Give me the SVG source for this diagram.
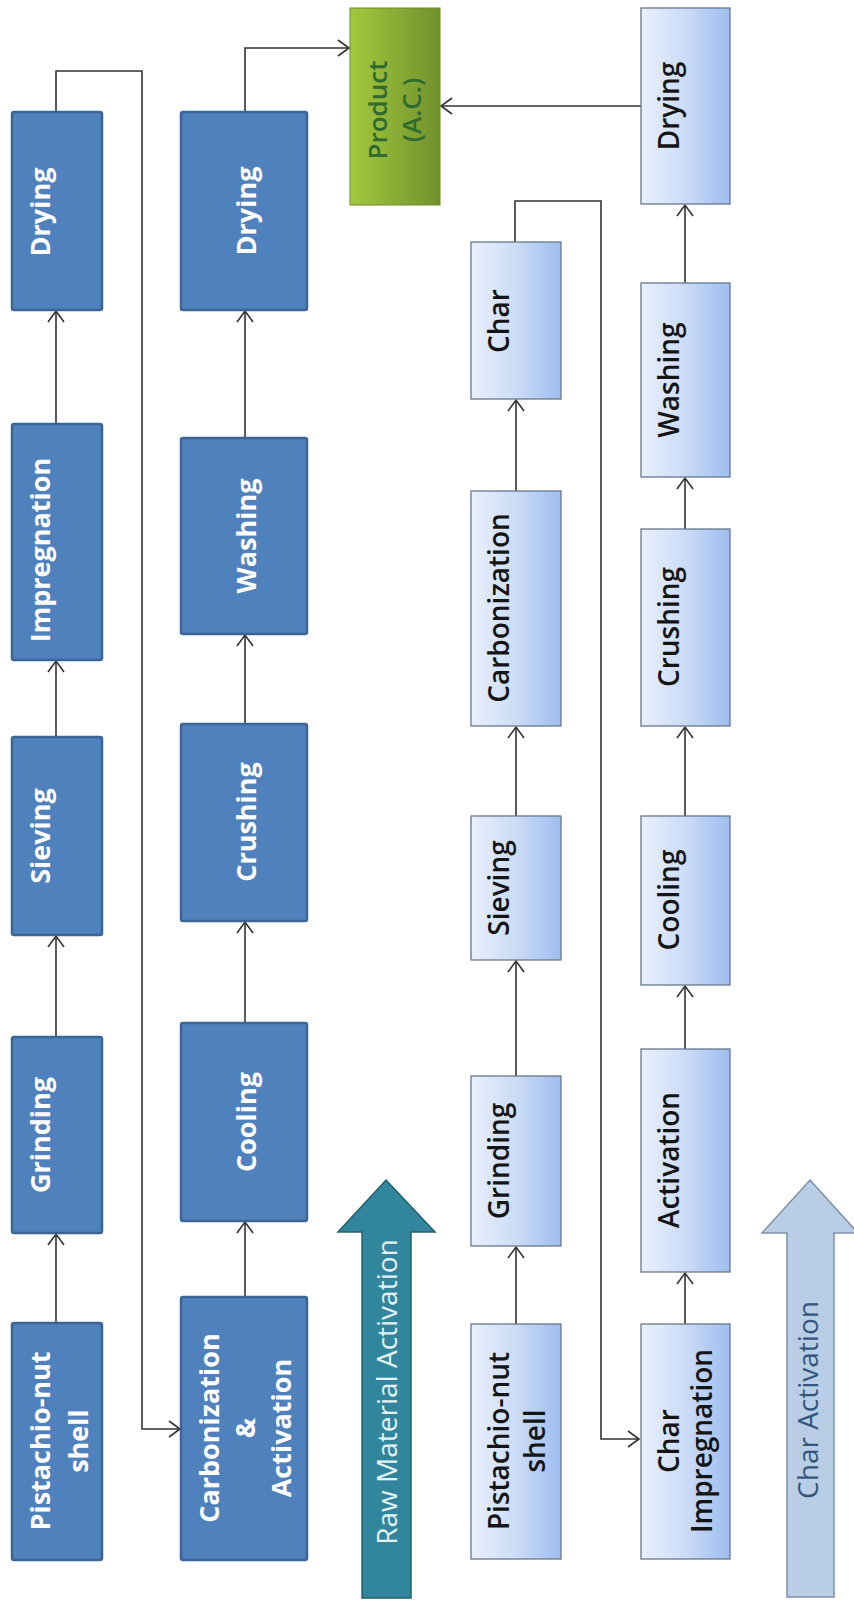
<svg xmlns="http://www.w3.org/2000/svg" width="854" height="1600" viewBox="0 0 854 1600">
<defs>
<linearGradient id="lg" x1="0" y1="0" x2="1" y2="0">
<stop offset="0" stop-color="#e9f0fc"/>
<stop offset="0.5" stop-color="#cbdcf7"/>
<stop offset="1" stop-color="#9ebdef"/>
</linearGradient>
<linearGradient id="gg" x1="0" y1="0" x2="1" y2="0">
<stop offset="0" stop-color="#a3c93e"/>
<stop offset="1" stop-color="#71902c"/>
</linearGradient>
<marker id="ah" markerUnits="userSpaceOnUse" markerWidth="14" markerHeight="18" viewBox="0 0 14 18" refX="12" refY="9" orient="auto">
<path d="M1,1 L12,9 L1,17" fill="none" stroke="#333" stroke-width="1.6"/>
</marker>
<style>
.dk{fill:#4f81bd;stroke:#3b6595;stroke-width:2.5}
.lt{fill:url(#lg);stroke:#67788c;stroke-width:1.3}
.tw{font-family:"Open Sans","DejaVu Sans",sans-serif;font-weight:bold;font-size:27px;fill:#ffffff;text-anchor:middle}
.tb{font-family:"Open Sans","DejaVu Sans",sans-serif;font-weight:600;font-size:28px;fill:#141414;text-anchor:middle}
.cn{fill:none;stroke:#333;stroke-width:1.6}
</style>
</defs>
<g id="connectors">
<path class="cn" marker-end="url(#ah)" d="M56,1323 V1234"/>
<path class="cn" marker-end="url(#ah)" d="M56,1037 V936"/>
<path class="cn" marker-end="url(#ah)" d="M56,737 V661"/>
<path class="cn" marker-end="url(#ah)" d="M56,424 V311"/>
<path class="cn" marker-end="url(#ah)" d="M56,112 V71 H142 V1429 H180"/>
<path class="cn" marker-end="url(#ah)" d="M245,1297 V1222"/>
<path class="cn" marker-end="url(#ah)" d="M245,1023 V922"/>
<path class="cn" marker-end="url(#ah)" d="M245,724 V635"/>
<path class="cn" marker-end="url(#ah)" d="M245,438 V311"/>
<path class="cn" marker-end="url(#ah)" d="M245,112 V48 H349"/>
<path class="cn" marker-end="url(#ah)" d="M516,1324 V1247"/>
<path class="cn" marker-end="url(#ah)" d="M516,1076 V961"/>
<path class="cn" marker-end="url(#ah)" d="M516,816 V727"/>
<path class="cn" marker-end="url(#ah)" d="M516,491 V400"/>
<path class="cn" marker-end="url(#ah)" d="M515,242 V201 H601 V1439 H639"/>
<path class="cn" marker-end="url(#ah)" d="M685,1324 V1273"/>
<path class="cn" marker-end="url(#ah)" d="M685,1049 V986"/>
<path class="cn" marker-end="url(#ah)" d="M685,816 V727"/>
<path class="cn" marker-end="url(#ah)" d="M685,529 V478"/>
<path class="cn" marker-end="url(#ah)" d="M685,283 V205"/>
<path class="cn" marker-end="url(#ah)" d="M641,106 H441"/>
</g>
<g id="r1-pistachio"><rect class="dk" x="12" y="1323" width="90" height="237" rx="2"/><text class="tw" transform="translate(50,1441) rotate(-90)"><tspan x="0" y="0">Pistachio-nut</tspan><tspan x="0" y="38">shell</tspan></text></g>
<g id="r1-grinding"><rect class="dk" x="12" y="1037" width="90" height="196" rx="2"/><text class="tw" transform="translate(50,1135) rotate(-90)">Grinding</text></g>
<g id="r1-sieving"><rect class="dk" x="12" y="737" width="90" height="198" rx="2"/><text class="tw" transform="translate(50,836) rotate(-90)">Sieving</text></g>
<g id="r1-impregnation"><rect class="dk" x="12" y="424" width="90" height="236" rx="2"/><text class="tw" transform="translate(50,550) rotate(-90)">Impregnation</text></g>
<g id="r1-drying"><rect class="dk" x="12" y="112" width="90" height="198" rx="2"/><text class="tw" transform="translate(50,212) rotate(-90)">Drying</text></g>
<g id="r2-carbact"><rect class="dk" x="181" y="1297" width="126" height="263" rx="2"/><text class="tw" transform="translate(219,1428) rotate(-90)"><tspan x="0" y="0">Carbonization</tspan><tspan x="0" y="36">&amp;</tspan><tspan x="0" y="72">Activation</tspan></text></g>
<g id="r2-cooling"><rect class="dk" x="181" y="1023" width="126" height="198" rx="2"/><text class="tw" transform="translate(256,1122) rotate(-90)">Cooling</text></g>
<g id="r2-crushing"><rect class="dk" x="181" y="724" width="126" height="197" rx="2"/><text class="tw" transform="translate(256,822) rotate(-90)">Crushing</text></g>
<g id="r2-washing"><rect class="dk" x="181" y="438" width="126" height="196" rx="2"/><text class="tw" transform="translate(256,536) rotate(-90)">Washing</text></g>
<g id="r2-drying"><rect class="dk" x="181" y="112" width="126" height="198" rx="2"/><text class="tw" transform="translate(256,211) rotate(-90)">Drying</text></g>
<g id="product"><rect x="350" y="8" width="90" height="197" fill="url(#gg)" stroke="#6b8a2c" stroke-width="1"/><text transform="translate(387,110) rotate(-90)" style="font-family:'Open Sans','DejaVu Sans',sans-serif;font-weight:600;font-size:26px;fill:#2f6a30;text-anchor:middle"><tspan x="0" y="0">Product</tspan><tspan x="0" y="34">(A.C.)</tspan></text></g>
<g id="raw-arrow"><polygon points="386,1180 435,1232 411,1232 411,1598 362,1598 362,1232 338,1232" fill="#31859c" stroke="#23606f" stroke-width="1.5"/><text transform="translate(397,1392) rotate(-90)" style="font-family:'Open Sans','DejaVu Sans',sans-serif;font-size:28px;fill:#e4f3f6;text-anchor:middle">Raw Material Activation</text></g>
<g id="r3-pistachio"><rect class="lt" x="471" y="1324" width="90" height="235"/><text class="tb" transform="translate(509,1441) rotate(-90)"><tspan x="0" y="0">Pistachio-nut</tspan><tspan x="0" y="36">shell</tspan></text></g>
<g id="r3-grinding"><rect class="lt" x="471" y="1076" width="90" height="170"/><text class="tb" transform="translate(509,1161) rotate(-90)">Grinding</text></g>
<g id="r3-sieving"><rect class="lt" x="471" y="816" width="90" height="144"/><text class="tb" transform="translate(509,888) rotate(-90)">Sieving</text></g>
<g id="r3-carbonization"><rect class="lt" x="471" y="491" width="90" height="235"/><text class="tb" transform="translate(509,608) rotate(-90)">Carbonization</text></g>
<g id="r3-char"><rect class="lt" x="471" y="242" width="90" height="157"/><text class="tb" transform="translate(509,321) rotate(-90)">Char</text></g>
<g id="r4-charimp"><rect class="lt" x="641" y="1324" width="89" height="235"/><text class="tb" transform="translate(679,1441) rotate(-90)"><tspan x="0" y="0">Char</tspan><tspan x="0" y="33">Impregnation</tspan></text></g>
<g id="r4-activation"><rect class="lt" x="641" y="1049" width="89" height="223"/><text class="tb" transform="translate(679,1160) rotate(-90)">Activation</text></g>
<g id="r4-cooling"><rect class="lt" x="641" y="816" width="89" height="169"/><text class="tb" transform="translate(679,900) rotate(-90)">Cooling</text></g>
<g id="r4-crushing"><rect class="lt" x="641" y="529" width="89" height="197"/><text class="tb" transform="translate(679,627) rotate(-90)">Crushing</text></g>
<g id="r4-washing"><rect class="lt" x="641" y="283" width="89" height="194"/><text class="tb" transform="translate(679,380) rotate(-90)">Washing</text></g>
<g id="r4-drying"><rect class="lt" x="641" y="8" width="89" height="196"/><text class="tb" transform="translate(679,106) rotate(-90)">Drying</text></g>
<g id="char-arrow"><polygon points="810,1180 858,1233 834,1233 834,1597 787,1597 787,1233 762,1233" fill="#b9cde4" stroke="#7d90a6" stroke-width="1.5"/><text transform="translate(818,1400) rotate(-90)" style="font-family:'Open Sans','DejaVu Sans',sans-serif;font-size:28px;fill:#33567f;text-anchor:middle">Char Activation</text></g>
</svg>
